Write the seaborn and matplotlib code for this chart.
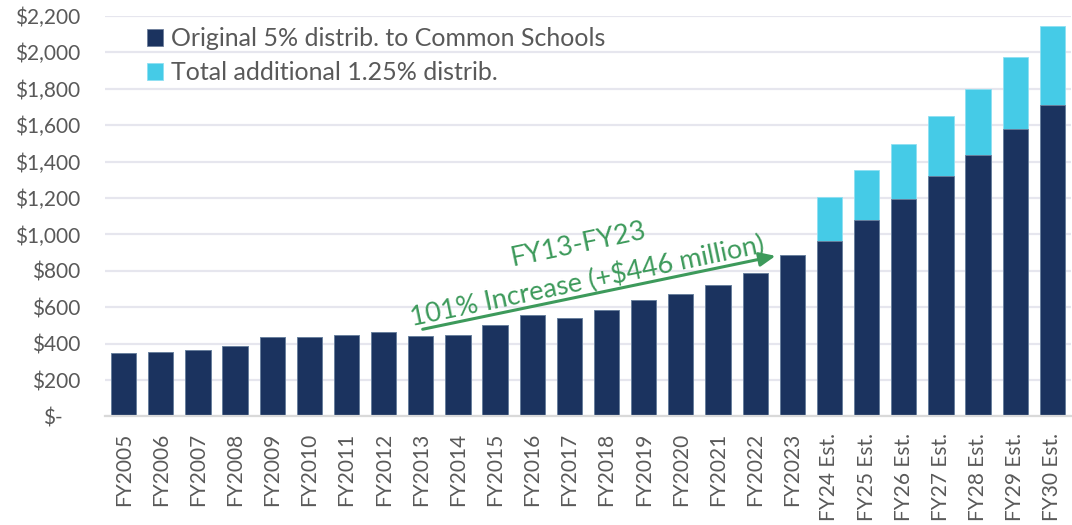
import numpy as np
import pandas as pd
import matplotlib
matplotlib.use("Agg")
import matplotlib.pyplot as plt
import matplotlib.transforms as mtrans
import seaborn as sns

years = ["FY2005", "FY2006", "FY2007", "FY2008", "FY2009", "FY2010", "FY2011",
         "FY2012", "FY2013", "FY2014", "FY2015", "FY2016", "FY2017", "FY2018",
         "FY2019", "FY2020", "FY2021", "FY2022", "FY2023",
         "FY24 Est.", "FY25 Est.", "FY26 Est.", "FY27 Est.", "FY28 Est.",
         "FY29 Est.", "FY30 Est."]
original = [349, 354, 365, 389, 435, 438, 446, 463, 441, 450, 503, 556, 541,
            587, 638, 671, 722, 788, 887, 966, 1081, 1197, 1321, 1437, 1580, 1713]
additional = [0, 0, 0, 0, 0, 0, 0, 0, 0, 0, 0, 0, 0, 0, 0, 0, 0, 0, 0,
              242, 272, 299, 330, 359, 394, 429]
yticks = [0, 200, 400, 600, 800, 1000, 1200, 1400, 1600, 1800, 2000, 2200]

navy = "#1b335f"
cyan = "#45cbe7"
green = "#3d9a5b"
grey = "#595959"

df = pd.DataFrame({"year": years, "original": original, "additional": additional})
df["total"] = df["original"] + df["additional"]

sns.set_theme(style="white")
plt.rcParams["font.family"] = ["Lato", "DejaVu Sans"]

fig = plt.figure(figsize=(10.72, 5.25), dpi=100)
ax = fig.add_axes([0.098, 0.2067, 0.901, 0.763])

# stacked look: totals underneath, original share drawn on top
sns.barplot(data=df, x="year", y="total", color=cyan, width=0.68, saturation=1,
            edgecolor="#8fe0f2", linewidth=0.6, ax=ax, label="Total additional 1.25% distrib.")
sns.barplot(data=df, x="year", y="original", color=navy, width=0.68, saturation=1,
            edgecolor="#6f7f9c", linewidth=0.6, ax=ax, label="Original 5% distrib. to Common Schools")

ax.set_xlim(-0.5, len(years) - 0.5)
ax.set_ylim(0, 2200)
ax.set_yticks(yticks)
ylabels = ["$-"] + ["${:,}".format(v) for v in yticks[1:]]
ax.set_yticklabels(ylabels)
ax.yaxis.grid(True, color="#e6e6ee", linewidth=1.6)
ax.set_axisbelow(True)
ax.set_xlabel("")
ax.set_ylabel("")
for s in ["top", "right", "left"]:
    ax.spines[s].set_visible(False)
ax.spines["bottom"].set_color("#d9d9d9")
ax.spines["bottom"].set_linewidth(1.6)
ax.tick_params(axis="y", length=0, pad=18, labelsize=15, labelcolor=grey)
ax.tick_params(axis="x", length=0, pad=12, labelsize=15, labelcolor=grey, rotation=90)

# accounting-style zero label sits a bit left of the others
zero_lab = ax.get_yticklabels()[0]
zero_lab.set_transform(zero_lab.get_transform()
                       + mtrans.ScaledTranslation(-0.17, 0, fig.dpi_scale_trans))

# legend: dark series first
handles, labels = ax.get_legend_handles_labels()
order = [labels.index("Original 5% distrib. to Common Schools"),
         labels.index("Total additional 1.25% distrib.")]
leg = ax.legend([handles[i] for i in order], [labels[i] for i in order],
                loc="upper left", bbox_to_anchor=(0.02, 1.028), frameon=False,
                fontsize=18, handlelength=0.65, handleheight=0.65, handletextpad=0.3,
                labelspacing=0.45, labelcolor=grey)

# FY13 -> FY23 growth arrow
ax.annotate("", xy=(17.55, 882), xytext=(8.05, 479),
            arrowprops=dict(arrowstyle="-|>,head_length=0.8,head_width=0.35",
                            color=green, lw=2.2, shrinkA=0, shrinkB=0))
ax.text(12.23, 942, "FY13-FY23", color=green, fontsize=19.5, rotation=11.8,
        ha="center", va="center", rotation_mode="anchor")
ax.text(12.48, 744, "101% Increase (+$446 million)", color=green, fontsize=19.5,
        rotation=11.8, ha="center", va="center", rotation_mode="anchor")

fig.savefig("out.png", dpi=100)
